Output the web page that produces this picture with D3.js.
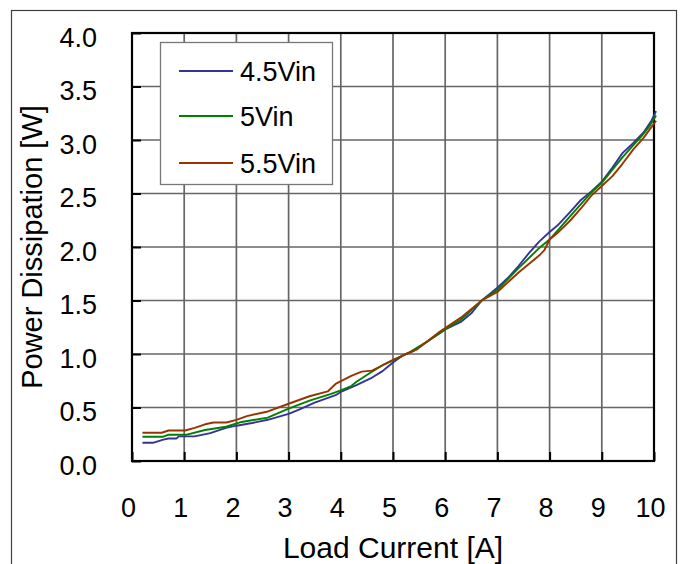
<!DOCTYPE html>
<html>
<head>
<meta charset="utf-8">
<script src="https://cdn.jsdelivr.net/npm/d3@7"></script>
<style>
  html, body { margin: 0; padding: 0; background: #fff; }
  svg { display: block; }
  text { font-family: "Liberation Sans", Arial, sans-serif; fill: #000; }
</style>
</head>
<body>
<svg id="chart" width="683" height="564"></svg>
<script>
// ---- Data ----
const seriesNames = ["4.5Vin", "5Vin", "5.5Vin"];
const seriesColors = ["#333399", "#008000", "#993300"];

const current45 = [0.2,0.4,0.6,0.7,0.85,0.9,1.2,1.5,1.8,2.0,2.3,2.6,3.0,3.2,3.5,3.9,4.0,4.3,4.6,4.8,4.9,5.0,5.2,5.4,5.7,6.0,6.3,6.5,6.7,7.0,7.2,7.4,7.6,7.8,8.0,8.15,8.4,8.6,8.8,9.0,9.2,9.4,9.6,9.8,9.95,10.04];
const power45   = [0.17,0.17,0.20,0.21,0.21,0.23,0.23,0.26,0.31,0.33,0.355,0.385,0.44,0.48,0.545,0.615,0.645,0.71,0.78,0.84,0.88,0.92,0.99,1.03,1.13,1.23,1.30,1.38,1.50,1.62,1.71,1.82,1.94,2.05,2.14,2.20,2.33,2.44,2.52,2.61,2.74,2.88,2.97,3.07,3.18,3.27];

const current50 = [0.2,0.6,0.7,1.05,1.4,1.8,2.1,2.6,3.0,3.4,3.8,4.0,4.2,4.3,4.55,4.8,5.0,5.3,5.7,6.0,6.3,6.7,7.0,7.4,7.8,8.0,8.4,8.6,8.8,9.0,9.2,9.4,9.6,9.75,9.9,10.04];
const power50   = [0.227,0.227,0.246,0.246,0.29,0.32,0.365,0.405,0.49,0.565,0.625,0.66,0.70,0.74,0.82,0.895,0.94,1.01,1.13,1.23,1.32,1.50,1.60,1.80,1.99,2.07,2.29,2.40,2.51,2.60,2.72,2.84,2.95,3.03,3.12,3.23];

const current55 = [0.2,0.57,0.7,1.02,1.2,1.4,1.56,1.81,2.0,2.2,2.58,3.0,3.4,3.75,3.9,4.2,4.4,4.6,4.8,5.0,5.25,5.45,5.9,6.3,6.7,7.0,7.4,7.8,7.9,8.0,8.15,8.4,8.6,8.8,9.0,9.2,9.4,9.6,9.8,9.95,10.04];
const power55   = [0.264,0.264,0.285,0.285,0.31,0.343,0.36,0.36,0.385,0.42,0.46,0.535,0.605,0.65,0.72,0.795,0.835,0.845,0.895,0.945,1.0,1.04,1.21,1.34,1.50,1.58,1.76,1.92,1.97,2.07,2.13,2.25,2.36,2.48,2.57,2.66,2.78,2.91,3.02,3.12,3.18];

const xTickValues = [0,1,2,3,4,5,6,7,8,9,10];
const yTickValues = [0.0,0.5,1.0,1.5,2.0,2.5,3.0,3.5,4.0];
const xTitle = "Load Current [A]";
const yTitle = "Power Dissipation [W]";

// ---- Layout ----
const svg = d3.select("#chart");
const plot = { left: 132, right: 654, top: 33, bottom: 461 };
const x = d3.scaleLinear().domain([0, 10]).range([plot.left, plot.right]);
const y = d3.scaleLinear().domain([0, 4]).range([plot.bottom, plot.top]);

// outer frame
svg.append("rect")
  .attr("x", 11.5).attr("y", 10.5)
  .attr("width", 665).attr("height", 600)
  .attr("fill", "none").attr("stroke", "#404040").attr("stroke-width", 1.2);

// grid lines
const gGrid = svg.append("g");
gGrid.selectAll("line.vg").data(xTickValues.slice(1, -1)).join("line")
  .attr("x1", d => x(d)).attr("x2", d => x(d))
  .attr("y1", plot.top).attr("y2", plot.bottom)
  .attr("stroke", "#666").attr("stroke-width", 1.7);
gGrid.selectAll("line.hg").data(yTickValues.slice(1, -1)).join("line")
  .attr("class", "hg")
  .attr("x1", plot.left).attr("x2", plot.right)
  .attr("y1", d => y(d)).attr("y2", d => y(d))
  .attr("stroke", "#666").attr("stroke-width", 1.7);

// inner tick marks via axes
const xAxis = d3.axisBottom(x).tickValues(xTickValues).tickSize(-9).tickFormat("");
const yAxis = d3.axisLeft(y).tickValues(yTickValues).tickSize(-9).tickFormat("");
const gx = svg.append("g").attr("transform", `translate(0,${plot.bottom})`).call(xAxis);
const gy = svg.append("g").attr("transform", `translate(${plot.left},0)`).call(yAxis);
[gx, gy].forEach(g => {
  g.select(".domain").remove();
  g.selectAll(".tick line").attr("stroke", "#000").attr("stroke-width", 2);
});

// plot border
svg.append("rect")
  .attr("x", plot.left).attr("y", plot.top)
  .attr("width", plot.right - plot.left).attr("height", plot.bottom - plot.top)
  .attr("fill", "none").attr("stroke", "#000").attr("stroke-width", 2.2);

// tick labels
svg.append("g").selectAll("text").data(xTickValues).join("text")
  .attr("x", d => x(d) - 3.5).attr("y", 516.5)
  .attr("text-anchor", "middle")
  .attr("font-size", 27)
  .text(d => d);
svg.append("g").selectAll("text").data(yTickValues).join("text")
  .attr("x", 97).attr("y", d => y(d) + 13.5)
  .attr("text-anchor", "end")
  .attr("font-size", 27)
  .text(d => d.toFixed(1));

// axis titles
svg.append("text")
  .attr("x", (plot.left + plot.right) / 2).attr("y", 558)
  .attr("text-anchor", "middle").attr("font-size", 30)
  .text(xTitle);
svg.append("text")
  .attr("transform", `translate(42,${(plot.top + plot.bottom) / 2}) rotate(-90)`)
  .attr("text-anchor", "middle").attr("font-size", 29)
  .text(yTitle);

// series lines
const seriesData = [
  current45.map((c, i) => [c, power45[i]]),
  current50.map((c, i) => [c, power50[i]]),
  current55.map((c, i) => [c, power55[i]])
];
const line = d3.line().x(d => x(d[0])).y(d => y(d[1]));
svg.append("g").selectAll("path").data(seriesData).join("path")
  .attr("d", line)
  .attr("fill", "none")
  .attr("stroke", (d, i) => seriesColors[i])
  .attr("stroke-width", 1.9)
  .attr("stroke-linejoin", "round");

// legend
const lg = svg.append("g");
lg.append("rect")
  .attr("x", 160.5).attr("y", 42.5).attr("width", 172).attr("height", 142)
  .attr("fill", "#fff").attr("stroke", "#777").attr("stroke-width", 1.3);
const legendY = [71, 116, 163];
seriesNames.forEach((name, i) => {
  lg.append("line")
    .attr("x1", 179).attr("x2", 233)
    .attr("y1", legendY[i]).attr("y2", legendY[i])
    .attr("stroke", seriesColors[i]).attr("stroke-width", 1.8);
  lg.append("text")
    .attr("x", 240).attr("y", legendY[i] + 9.5)
    .attr("font-size", 27)
    .text(name);
});
</script>
</body>
</html>
